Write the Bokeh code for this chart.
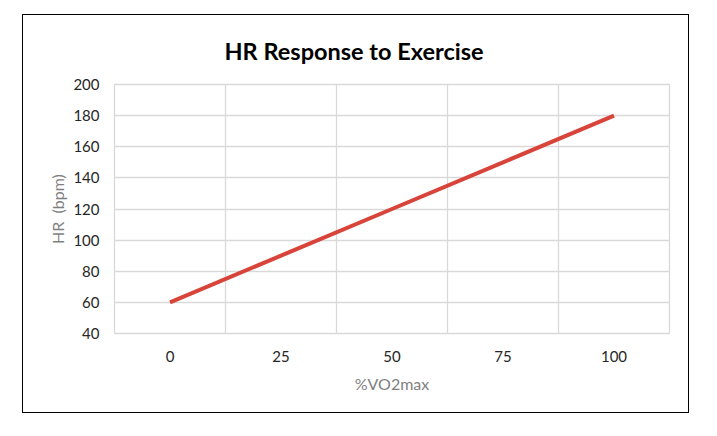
from bokeh.plotting import figure
from bokeh.models import FixedTicker, Range1d
from bokeh.embed import file_html
from bokeh.resources import INLINE

# data
vo2_pct = [0, 25, 50, 75, 100]
hr_bpm = [60, 90, 120, 150, 180]
x_tick_labels = ["0", "25", "50", "75", "100"]
y_ticks = [40, 60, 80, 100, 120, 140, 160, 180, 200]
cat_step = 25

FONT = "Lato"

p = figure(width=667, height=399, output_backend="svg", toolbar_location=None,
           x_range=Range1d(vo2_pct[0] - cat_step / 2, vo2_pct[-1] + cat_step / 2),
           y_range=Range1d(y_ticks[0], y_ticks[-1]),
           min_border_left=91, min_border_right=21, min_border_top=69, min_border_bottom=81)
p.margin = (14, 0, 0, 22)
p.styles = {"border": "1.5px solid black"}

p.title.text = "HR Response to Exercise"
p.title.align = "left"
p.title.text_font = FONT
p.title.text_font_size = "23.5px"
p.title.text_font_style = "bold"
p.title.text_color = "#000000"
p.title.offset = 110
p.title.standoff = 39

p.line(vo2_pct, hr_bpm, line_color="#d8433a", line_width=4)

p.xaxis.ticker = FixedTicker(ticks=vo2_pct)
p.xaxis.major_label_overrides = {v: s for v, s in zip(vo2_pct, x_tick_labels)}
p.xgrid.ticker = FixedTicker(ticks=[v - cat_step / 2 for v in vo2_pct] + [vo2_pct[-1] + cat_step / 2])
p.yaxis.ticker = FixedTicker(ticks=y_ticks)

for ax in (p.xaxis[0], p.yaxis[0]):
    ax.axis_line_color = None
    ax.major_tick_line_color = None
    ax.minor_tick_line_color = None
    ax.major_tick_out = 0
    ax.major_tick_in = 0
    ax.major_label_text_font = FONT
    ax.major_label_text_font_size = "15px"
    ax.major_label_text_color = "#262626"
    ax.axis_label_text_font = FONT
    ax.axis_label_text_font_size = "16px"
    ax.axis_label_text_color = "#7f7f7f"
    ax.axis_label_text_font_style = "normal"

p.xaxis.axis_label = "%VO2max"
p.yaxis.axis_label = "HR \u00a0(bpm)"
p.xaxis.major_label_standoff = 17
p.yaxis.major_label_standoff = 15
p.xaxis.axis_label_standoff = 9
p.yaxis.axis_label_standoff = 3

p.grid.grid_line_color = "#d9d9d9"
p.grid.grid_line_width = 1.3
p.outline_line_color = "#d9d9d9"
p.outline_line_width = 1.3
p.background_fill_color = "white"
p.border_fill_color = "white"

open("out.html", "w").write(file_html(p, INLINE))
